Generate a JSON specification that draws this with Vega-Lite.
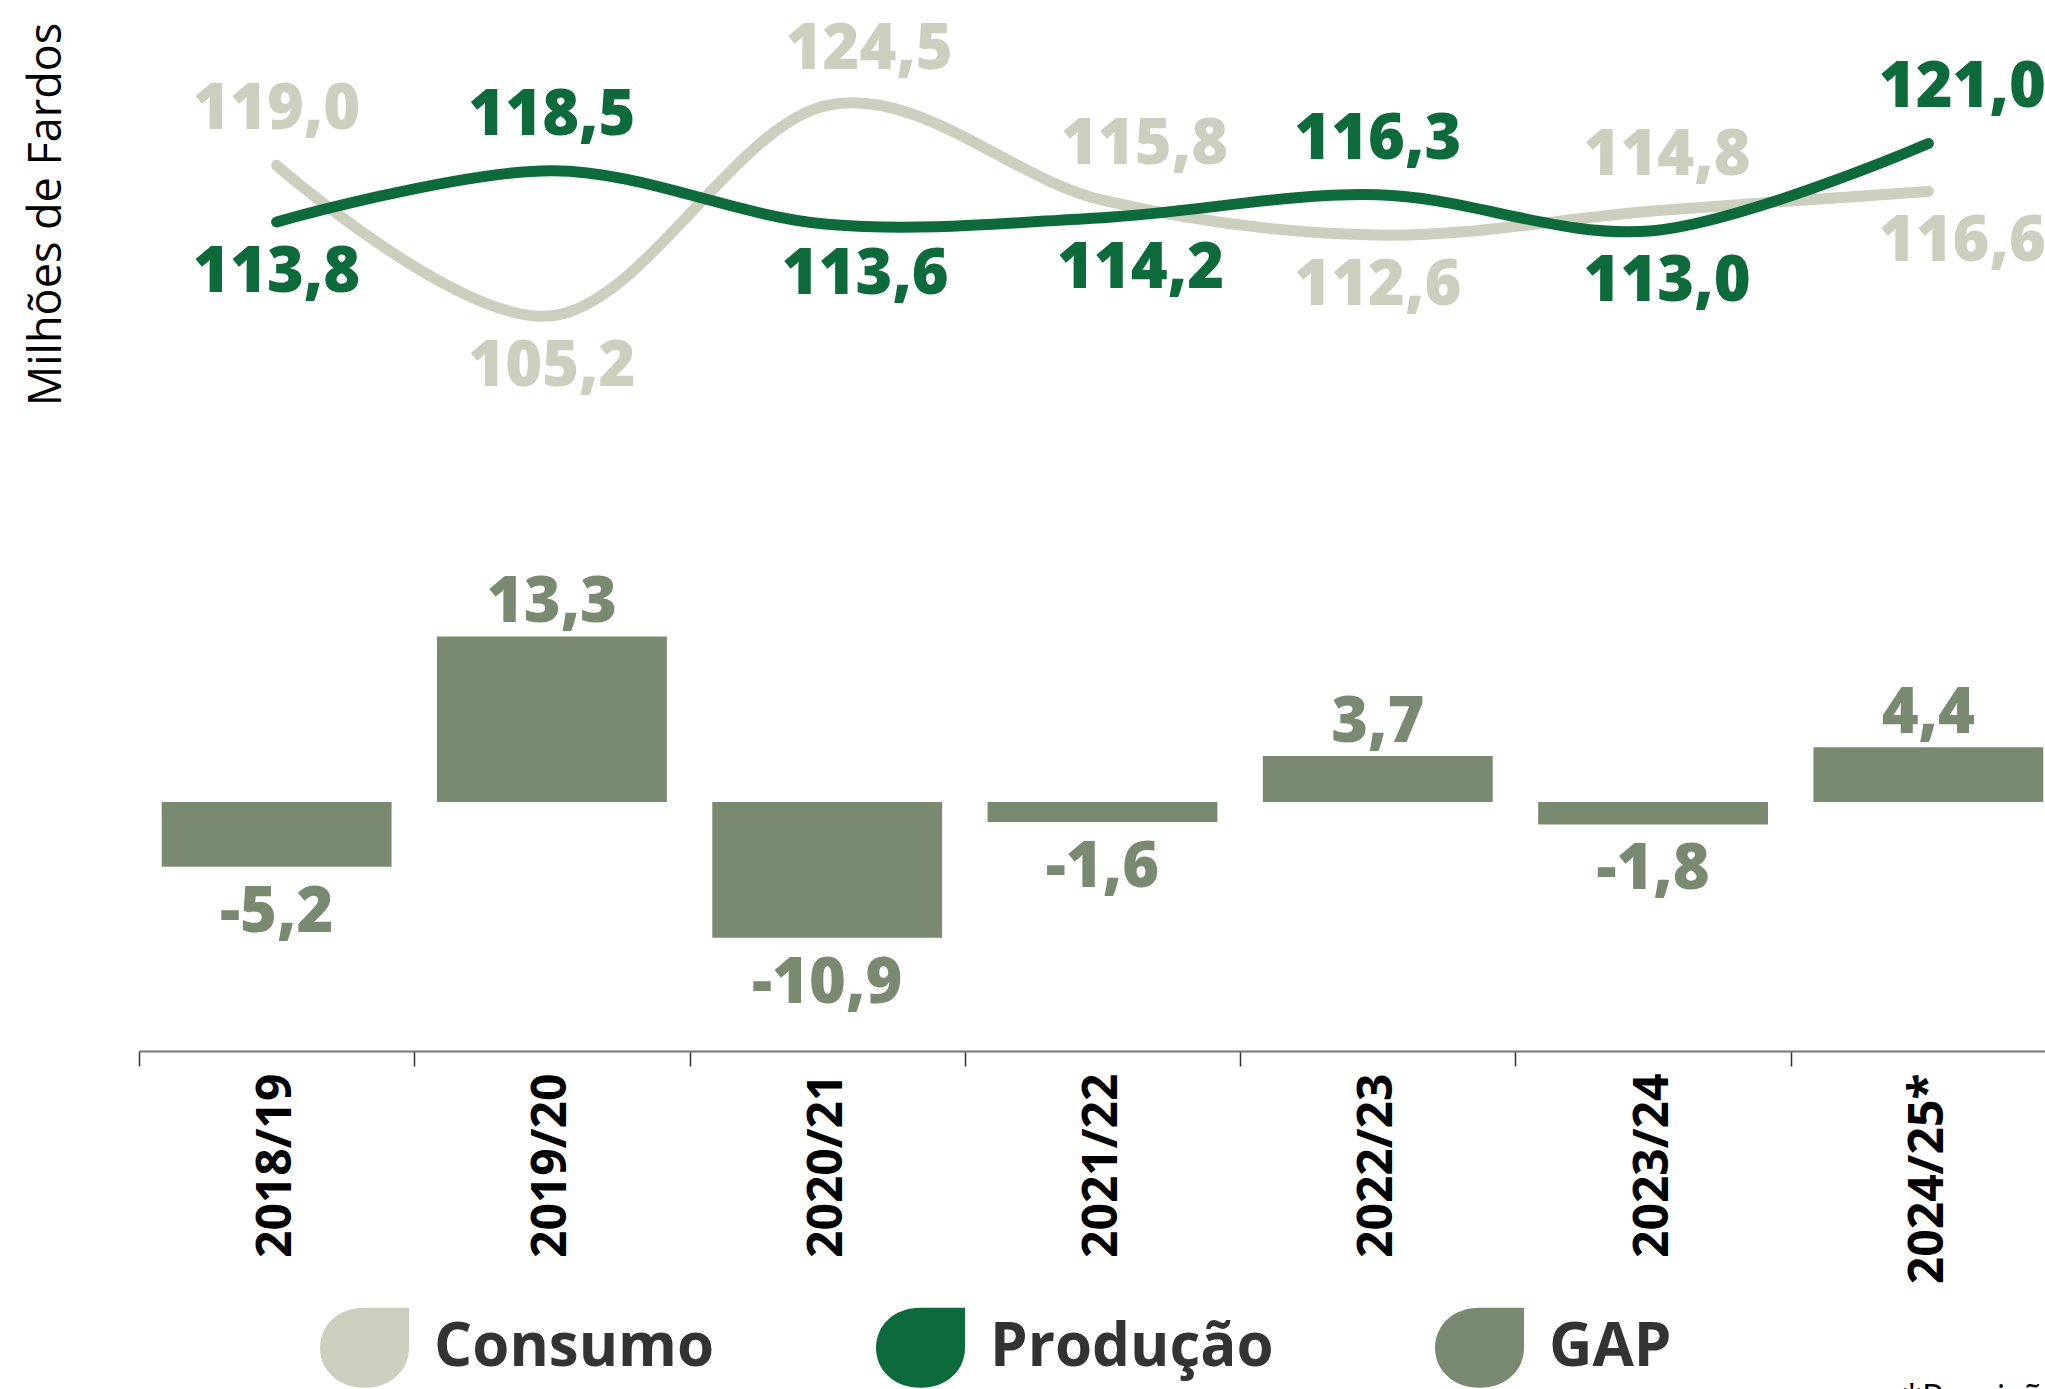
{
  "$schema": "https://vega.github.io/schema/vega-lite/v6.json",
  "width": 1927,
  "height": 1051,
  "autosize": {"type": "none"},
  "padding": {"left": 139, "top": 0, "right": 0, "bottom": 338},
  "title": {"text": "*Previsão", "orient": "bottom", "anchor": "start", "dx": 1878, "offset": -6, "fontSize": 36, "font": "Open Sans", "fontWeight": "normal", "color": "#000000", "baseline": "top"},
  "data": {
    "values": [
      {"safra": "2018/19", "Consumo": 119.0, "Producao": 113.8, "GAP": -5.2},
      {"safra": "2019/20", "Consumo": 105.2, "Producao": 118.5, "GAP": 13.3},
      {"safra": "2020/21", "Consumo": 124.5, "Producao": 113.6, "GAP": -10.9},
      {"safra": "2021/22", "Consumo": 115.8, "Producao": 114.2, "GAP": -1.6},
      {"safra": "2022/23", "Consumo": 112.6, "Producao": 116.3, "GAP": 3.7},
      {"safra": "2023/24", "Consumo": 114.8, "Producao": 113.0, "GAP": -1.8},
      {"safra": "2024/25*", "Consumo": 116.6, "Producao": 121.0, "GAP": 4.4}
    ]
  },
  "encoding": {
    "x": {
      "field": "safra",
      "type": "nominal",
      "sort": null,
      "scale": {"paddingInner": 0, "paddingOuter": 0},
      "axis": {
        "title": null,
        "labelAngle": 270,
        "labelFont": "Open Sans",
        "labelFontSize": 48,
        "labelFontWeight": "bold",
        "labelColor": "#000000",
        "labelPadding": 7,
        "labelLimit": 500,
        "tickBand": "extent",
        "tickSize": 15,
        "tickColor": "#333333",
        "tickWidth": 1.5,
        "domainColor": "#777777",
        "domainWidth": 2,
        "grid": false
      }
    }
  },
  "layer": [
    {
      "encoding": {
        "y": {"field": "GAP", "type": "quantitative", "scale": {"domain": [-20, 64.42], "nice": false}, "axis": null}
      },
      "layer": [
        {
          "mark": {"type": "bar", "width": {"band": 0.835}},
          "encoding": {
            "color": {
              "datum": "GAP",
              "type": "nominal",
              "scale": {"domain": ["Consumo", "Produção", "GAP"], "range": ["#CCCFBE", "#0D6B3B", "#7A8A71"]},
              "legend": {
                "orient": "none",
                "legendX": 181,
                "legendY": 1303,
                "direction": "horizontal",
                "columns": 3,
                "title": null,
                "symbolType": "M0,-0.9L1,-0.9L1,0C1,0.5 0.6,0.9 0,0.9C-0.6,0.9 -1,0.5 -1,0C-1,-0.5 -0.6,-0.9 0,-0.9Z",
                "symbolSize": 7921,
                "symbolStrokeWidth": 0,
                "symbolOpacity": 1,
                "labelFont": "Open Sans",
                "labelFontSize": 60,
                "labelFontWeight": "bold",
                "labelColor": "#333333",
                "labelOffset": 25,
                "labelLimit": 600,
                "columnPadding": 161,
                "gridAlign": "each"
              }
            }
          }
        },
        {
          "transform": [{"filter": "datum.GAP > 0"}],
          "mark": {"type": "text", "font": "Open Sans", "fontWeight": 800, "fontSize": 63, "baseline": "alphabetic", "dy": -14, "color": "#7A8A71"},
          "encoding": {"text": {"field": "GAP", "type": "quantitative", "format": ".1f"}}
        },
        {
          "transform": [{"filter": "datum.GAP < 0"}],
          "mark": {"type": "text", "font": "Open Sans", "fontWeight": 800, "fontSize": 63, "baseline": "alphabetic", "dy": 65, "color": "#7A8A71"},
          "encoding": {"text": {"field": "GAP", "type": "quantitative", "format": ".1f"}}
        }
      ]
    },
    {
      "transform": [{"fold": ["Consumo", "Producao"], "as": ["serie", "valor"]}],
      "encoding": {
        "y": {
          "field": "valor",
          "type": "quantitative",
          "scale": {"domain": [37.81, 134.15], "nice": false, "zero": false},
          "axis": {
            "title": "Milhões de Fardos",
            "labels": false,
            "ticks": false,
            "domain": false,
            "grid": false,
            "titleX": -79,
            "titleY": 214,
            "titleAngle": 270,
            "titleAlign": "center",
            "titleBaseline": "alphabetic",
            "titleFont": "Open Sans",
            "titleFontSize": 45,
            "titleFontWeight": "normal",
            "titleColor": "#000000"
          }
        }
      },
      "layer": [
        {
          "mark": {"type": "line", "interpolate": "cardinal", "strokeWidth": 11, "strokeCap": "round"},
          "encoding": {
            "stroke": {"field": "serie", "type": "nominal", "scale": {"domain": ["Consumo", "Producao"], "range": ["#CCCFBE", "#0D6B3B"]}, "legend": null}
          }
        },
        {
          "transform": [{"filter": "(datum.serie == 'Consumo' && datum.Consumo >= datum.Producao) || (datum.serie == 'Producao' && datum.Producao > datum.Consumo)"}],
          "mark": {"type": "text", "font": "Open Sans", "fontWeight": 800, "fontSize": 63, "baseline": "alphabetic", "dy": -36, "dx": {"expr": "datum.safra == '2020/21' || datum.safra == '2021/22' ? 42 : datum.safra == '2024/25*' ? 34 : datum.safra == '2023/24' ? 14 : 0"}},
          "encoding": {
            "text": {"field": "valor", "type": "quantitative", "format": ".1f"},
            "fill": {"field": "serie", "type": "nominal", "scale": {"domain": ["Consumo", "Producao"], "range": ["#CCCFBE", "#0D6B3B"]}, "legend": null}
          }
        },
        {
          "transform": [{"filter": "(datum.serie == 'Consumo' && datum.Consumo < datum.Producao) || (datum.serie == 'Producao' && datum.Producao <= datum.Consumo)"}],
          "mark": {"type": "text", "font": "Open Sans", "fontWeight": 800, "fontSize": 63, "baseline": "alphabetic", "dy": 70, "dx": {"expr": "datum.safra == '2020/21' || datum.safra == '2021/22' ? 38 : datum.safra == '2024/25*' ? 34 : datum.safra == '2023/24' ? 14 : 0"}},
          "encoding": {
            "text": {"field": "valor", "type": "quantitative", "format": ".1f"},
            "fill": {"field": "serie", "type": "nominal", "scale": {"domain": ["Consumo", "Producao"], "range": ["#CCCFBE", "#0D6B3B"]}, "legend": null}
          }
        }
      ]
    }
  ],
  "resolve": {"scale": {"y": "independent"}},
  "config": {
    "view": {"stroke": null},
    "locale": {"number": {"decimal": ",", "thousands": ".", "grouping": [3], "currency": ["R$", ""], "minus": "-"}}
  }
}
